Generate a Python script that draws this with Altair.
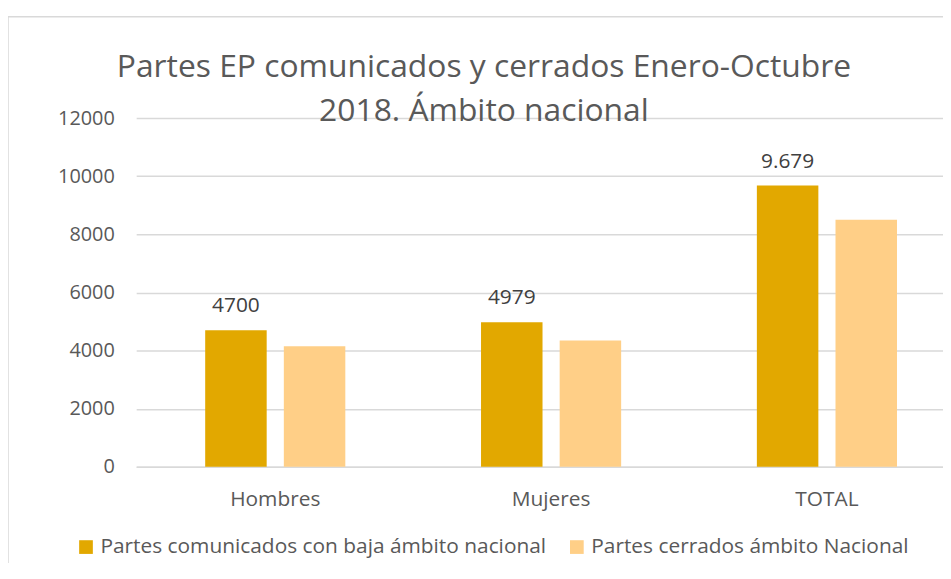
import altair as alt
import pandas as pd

categories = ["Hombres", "Mujeres", "TOTAL"]
series_names = ["Partes comunicados con baja ámbito nacional", "Partes cerrados ámbito Nacional"]
comunicados = [4700, 4979, 9679]
cerrados = [4150, 4350, 8500]
labels_comunicados = ["4700", "4979", "9.679"]
y_ticks = [0, 2000, 4000, 6000, 8000, 10000, 12000]
colors = ["#E2A800", "#FFCF87"]
title_lines = "Partes EP comunicados y cerrados Enero-Octubre\n2018. Ámbito nacional"

rows = []
for i, c in enumerate(categories):
    rows.append({"cat": c, "serie": series_names[0], "valor": comunicados[i], "label": labels_comunicados[i]})
    rows.append({"cat": c, "serie": series_names[1], "valor": cerrados[i], "label": ""})
df = pd.DataFrame(rows)

FONT = "Open Sans"

x = alt.X("cat:N", sort=categories, title=None,
          scale=alt.Scale(paddingInner=0.492, paddingOuter=0.2085, align=0.6),
          axis=alt.Axis(labelAngle=0, labelFontSize=21, labelColor="#595959", labelFont=FONT,
                        ticks=False, domainColor="#D9D9D9", domainWidth=1.5, labelPadding=22))
xo = alt.XOffset("serie:N", sort=series_names, scale=alt.Scale(paddingInner=0.218, paddingOuter=0))
y = alt.Y("valor:Q", title=None,
          scale=alt.Scale(domain=[0, 12000], nice=False),
          axis=alt.Axis(values=y_ticks, format="d", labelFontSize=20, labelColor="#595959", labelFont=FONT,
                        ticks=False, domain=False, gridColor="#D9D9D9", gridWidth=1.5, labelPadding=22))

bars = alt.Chart(df).mark_bar().encode(
    x=x, xOffset=xo, y=y,
    color=alt.Color("serie:N", sort=series_names,
                    scale=alt.Scale(domain=series_names, range=colors),
                    legend=alt.Legend(title=None, orient="none", direction="horizontal",
                                      legendX=-61, legendY=421, symbolType="square",
                                      symbolSize=190, symbolStrokeWidth=0, symbolOpacity=1,
                                      labelFontSize=21, labelColor="#595959", labelFont=FONT,
                                      columnPadding=20, labelLimit=700)),
)

text = alt.Chart(df).transform_filter(alt.datum.label != "").mark_text(
    baseline="bottom", dy=-14, fontSize=21, color="#404040", font=FONT
).encode(x=x, xOffset=xo, y=y, text="label:N")

deco = pd.DataFrame({"a": [0]})

border = alt.Chart(deco).mark_rect(
    fill=None, stroke="#D9D9D9", strokeWidth=1.5
).encode(x=alt.value(-129), x2=alt.value(900), y=alt.value(-102), y2=alt.value(600))

title = alt.Chart(deco).mark_text(
    text=title_lines, lineBreak="\n", lineHeight=44, fontSize=32, font=FONT,
    color="#595959", align="center", baseline="alphabetic"
).encode(x=alt.value(350), y=alt.value(-41))

chart = alt.layer(border, bars, text, title).properties(
    width=812, height=351,
    autosize=alt.AutoSizeParams(type="none"),
    padding={"left": 129, "top": 109, "right": 0, "bottom": 95},
).configure_view(stroke=None)

chart.save("out.html", embed_options={"renderer": "svg", "actions": False})
